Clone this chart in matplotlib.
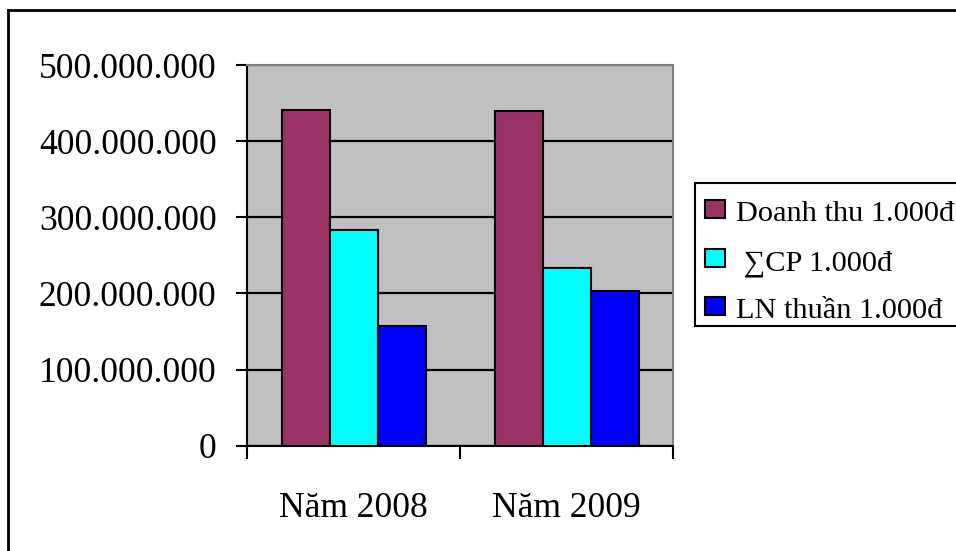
import matplotlib
matplotlib.use("Agg")
import matplotlib.pyplot as plt
import numpy as np
from matplotlib.lines import Line2D
from matplotlib.patches import Rectangle

categories = ["Năm 2008", "Năm 2009"]
series_names = ["Doanh thu 1.000đ", " ∑CP 1.000đ", "LN thuần 1.000đ"]
doanh_thu = [441_000_000, 439_000_000]
tong_cp = [283_500_000, 234_000_000]
ln_thuan = [157_500_000, 203_000_000]
y_ticks = [0, 100_000_000, 200_000_000, 300_000_000, 400_000_000, 500_000_000]
colors = ["#993366", "#00FFFF", "#0000FF"]

plt.rcParams['font.family'] = ['Liberation Serif', 'DejaVu Serif']

W, H = 956, 551
fig = plt.figure(figsize=(W / 100, H / 100), dpi=100)
fig.patch.set_facecolor("white")

left, right, top, bottom = 247.3, 673.3, 65, 445.7
ax = fig.add_axes([left / W, 1 - bottom / H, (right - left) / W, (bottom - top) / H])
ax.set_facecolor("#C0C0C0")

x = np.arange(len(categories))
bw = 0.225
for i, (vals, name, c) in enumerate(zip([doanh_thu, tong_cp, ln_thuan], series_names, colors)):
    ax.bar(x + (i - 1) * bw, vals, bw, color=c, edgecolor="black", linewidth=1.5, label=name, zorder=3)

ax.set_xlim(-0.5, len(categories) - 0.5)
ax.set_ylim(0, 500_000_000)
ax.set_yticks(y_ticks)
ax.set_yticklabels([f"{v:,}".replace(",", ".") for v in y_ticks], fontsize=25.6)
ax.yaxis.grid(True, color="black", linewidth=1.6, zorder=1)
ax.set_axisbelow(True)

ax.set_xticks([-0.5, 0.5, 1.5])
ax.set_xticklabels([])
ax.set_xticks(x, minor=True)
ax.set_xticklabels(categories, minor=True, fontsize=25.6)
ax.tick_params(axis="x", which="minor", length=0, pad=33)
ax.tick_params(axis="x", which="major", length=9, width=1.5, direction="out")
ax.tick_params(axis="y", length=8, width=1.5, direction="out", pad=14)

for s in ["left", "bottom"]:
    ax.spines[s].set_color("black")
    ax.spines[s].set_linewidth(1.5)
for s in ["top", "right"]:
    ax.spines[s].set_color("#808080")
    ax.spines[s].set_linewidth(1.5)

# manual legend (pixel layout, figure coordinates)
def fx(px):
    return px / W

def fy(py):
    return 1 - py / H

fig.add_artist(Rectangle((fx(694.7), fy(325.7)), fx(970) - fx(694.7), fy(182.7) - fy(325.7),
                         transform=fig.transFigure, facecolor="white", edgecolor="black",
                         linewidth=1.5, zorder=5))
row_centers = [209, 257.5, 306]
for name, c, cy in zip(series_names, colors, row_centers):
    fig.add_artist(Rectangle((fx(705), fy(cy + 9)), fx(725) - fx(705), fy(cy - 9) - fy(cy + 9),
                             transform=fig.transFigure, facecolor=c, edgecolor="black",
                             linewidth=1.5, zorder=6))
    fig.text(fx(736), fy(cy + 12.5), name, fontsize=21.9, va="baseline", ha="left", zorder=7)

# outer chart border (left and top visible)
fig.add_artist(Line2D([8 / W, 8 / W], [1 - 10 / H, 0], transform=fig.transFigure, color="black", linewidth=2))
fig.add_artist(Line2D([8 / W, 1], [1 - 10 / H, 1 - 10 / H], transform=fig.transFigure, color="black", linewidth=2))

fig.savefig("out.png", dpi=100)
